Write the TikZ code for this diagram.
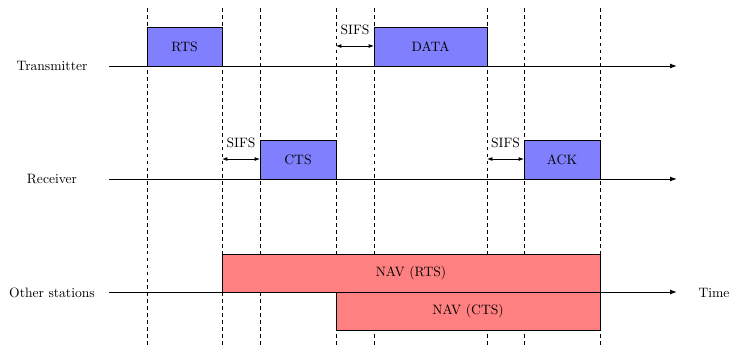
\documentclass[tikz,border=0pt]{standalone}
\usetikzlibrary{arrows.meta,fit}
\begin{document}
\begin{tikzpicture}[x=0.7353pt,y=-0.7353pt,
  vline/.style={dash pattern=on 2.7pt off 2.4pt,line width=0.7pt},
  axis/.style={line width=0.7pt,-{Latex[length=5pt,width=3.5pt]}},
  bluebox/.style={draw=black,line width=0.7pt,fill=blue!50,inner sep=0pt},
  redbox/.style={draw=black,line width=0.7pt,fill=red!50,inner sep=0pt},
  sifs/.style={line width=0.7pt,{Latex[length=4pt,width=3pt]}-{Latex[length=4pt,width=3pt]}},
  lbl/.style={inner sep=0pt}]
\useasboundingbox (0,0) rectangle (730,346);
% vertical dashed lines
\foreach \n/\x in {a/147,b/222,c/260,d/336,e/374,f/487,g/524,h/600}{
  \coordinate (\n top) at (\x,8);
  \coordinate (\n bot) at (\x,346);
  \draw[vline] (\n top) -- (\n bot);
}
% boxes
\coordinate (rtsA) at (147,27); \coordinate (rtsB) at (222,66);
\node[bluebox,fit=(rtsA)(rtsB)] (rts) {};
\node[lbl] (rtst) at (rts.center) {RTS};
\coordinate (dataA) at (374,27); \coordinate (dataB) at (487,66);
\node[bluebox,fit=(dataA)(dataB)] (data) {};
\node[lbl] (datat) at (data.center) {DATA};
\coordinate (ctsA) at (260,140); \coordinate (ctsB) at (336,179);
\node[bluebox,fit=(ctsA)(ctsB)] (cts) {};
\node[lbl] (ctst) at (cts.center) {CTS};
\coordinate (ackA) at (524,140); \coordinate (ackB) at (600,179);
\node[bluebox,fit=(ackA)(ackB)] (ack) {};
\node[lbl] (ackt) at (ack.center) {ACK};
\coordinate (navrA) at (222,254); \coordinate (navrB) at (600,292);
\node[redbox,fit=(navrA)(navrB)] (navr) {};
\node[lbl] (navrt) at (navr.center) {NAV (RTS)};
\coordinate (navcA) at (336,292); \coordinate (navcB) at (600,330);
\node[redbox,fit=(navcA)(navcB)] (navc) {};
\node[lbl] (navct) at (navc.center) {NAV (CTS)};
% axes
\coordinate (t0) at (109,66);  \coordinate (t1) at (677,66);
\coordinate (r0) at (109,179); \coordinate (r1) at (677,179);
\coordinate (o0) at (109,292); \coordinate (o1) at (677,292);
\draw[axis] (t0) -- (t1);
\draw[axis] (r0) -- (r1);
\draw[axis] (o0) -- (o1);
\node[lbl] (ltx) at (52,66) {Transmitter};
\node[lbl] (lrx) at (52,179) {Receiver};
\node[lbl] (lot) at (52,293) {Other stations};
\node[lbl] (ltime) at (714,293) {Time};
% SIFS
\coordinate (s1a) at (336,46); \coordinate (s1b) at (374,46);
\draw[sifs] (s1a) -- (s1b);
\node[lbl] (s1) at (355,30) {SIFS};
\coordinate (s2a) at (222,159); \coordinate (s2b) at (260,159);
\draw[sifs] (s2a) -- (s2b);
\node[lbl] (s2) at (241,143) {SIFS};
\coordinate (s3a) at (487,159); \coordinate (s3b) at (524,159);
\draw[sifs] (s3a) -- (s3b);
\node[lbl] (s3) at (505.5,143) {SIFS};
\end{tikzpicture}
\end{document}
